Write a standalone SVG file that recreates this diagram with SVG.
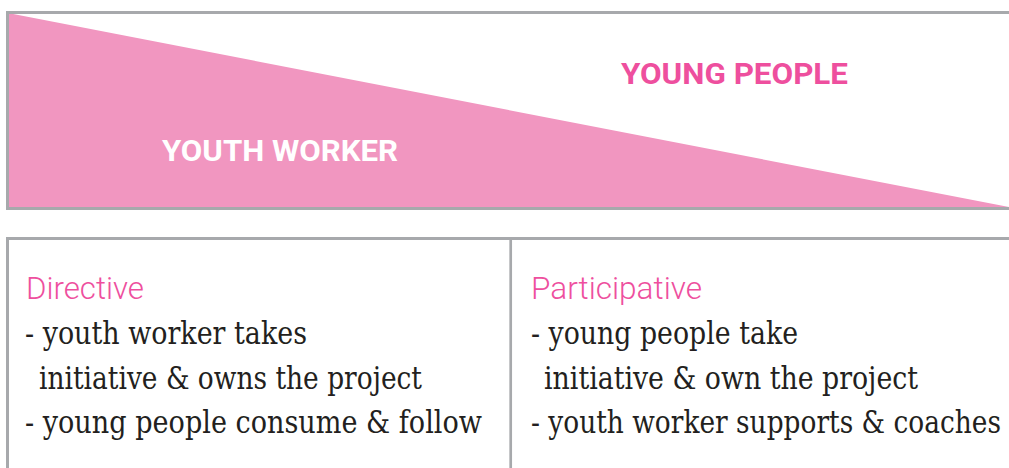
<svg xmlns="http://www.w3.org/2000/svg" width="1009" height="468" viewBox="0 0 1009 468">
<style>
.frame{fill:none;stroke:#a7a9ac;stroke-width:3}
.title{font-family:Roboto,"Liberation Sans",sans-serif;font-weight:700;font-size:30px}
.head{font-family:Roboto,"Liberation Sans",sans-serif;font-weight:300;font-size:31px;fill:#ee4f9e}
.body{font-family:"DejaVu Serif","Liberation Serif",serif;font-size:31px;fill:#231f20}
</style>
<rect width="1009" height="468" fill="#fff"/>
<g id="scale">
<polygon points="8,13 1009,207 8,207" fill="#f196c0"/>
<rect class="frame" x="7.5" y="12.5" width="1010" height="196"/>
<text class="title" x="162" y="161" fill="#ffffff" textLength="236" lengthAdjust="spacingAndGlyphs">YOUTH WORKER</text>
<text class="title" x="621" y="84" fill="#ee4f9e" textLength="227" lengthAdjust="spacingAndGlyphs">YOUNG PEOPLE</text>
</g>
<g id="table">
<path class="frame" d="M7.5,470 V238.5 H1012"/>
<line x1="510.7" y1="238.5" x2="510.7" y2="468" stroke="#a7a9ac" stroke-width="2.7"/>
</g>
<g id="directive">
<text class="head" x="26" y="298.5" textLength="118" lengthAdjust="spacingAndGlyphs">Directive</text>
<text class="body" x="25" y="344" textLength="282" lengthAdjust="spacingAndGlyphs">- youth worker takes</text>
<text class="body" x="39" y="388.5" textLength="383" lengthAdjust="spacingAndGlyphs">initiative &amp; owns the project</text>
<text class="body" x="25" y="432.5" textLength="457" lengthAdjust="spacingAndGlyphs">- young people consume &amp; follow</text>
</g>
<g id="participative">
<text class="head" x="531" y="298.5" textLength="171" lengthAdjust="spacingAndGlyphs">Participative</text>
<text class="body" x="531" y="344" textLength="267" lengthAdjust="spacingAndGlyphs">- young people take</text>
<text class="body" x="544" y="388.5" textLength="374" lengthAdjust="spacingAndGlyphs">initiative &amp; own the project</text>
<text class="body" x="531" y="432.5" textLength="470" lengthAdjust="spacingAndGlyphs">- youth worker supports &amp; coaches</text>
</g>
</svg>
